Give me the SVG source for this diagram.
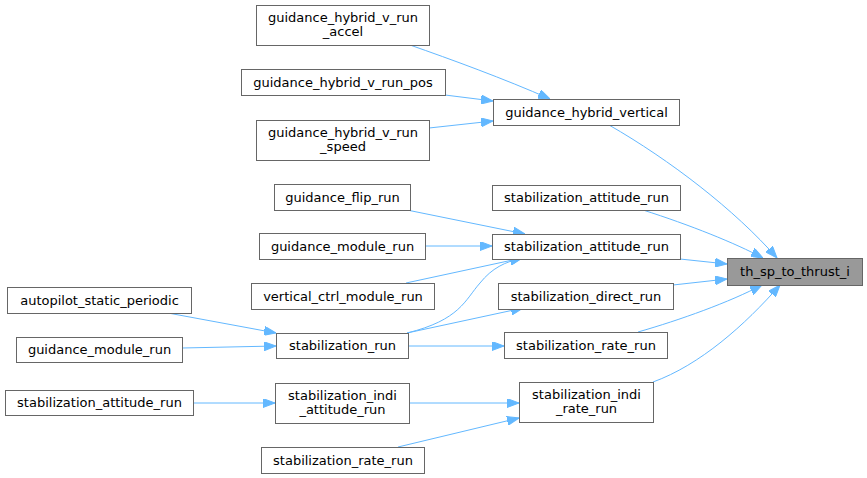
<svg xmlns="http://www.w3.org/2000/svg" width="867" height="478" viewBox="0 0 867 478">
<style>
.n rect{fill:#ffffff;stroke:#666666;stroke-width:1}
.n.hl rect{fill:#999999}
.n text{font-family:"DejaVu Sans",sans-serif;font-size:13px;fill:#000000;text-anchor:middle}
#edges path{fill:none;stroke:#63b8ff;stroke-width:1;marker-end:url(#ah)}
</style>
<defs>
<marker id="ah" markerUnits="userSpaceOnUse" markerWidth="12" markerHeight="9" refX="12" refY="4.5" orient="auto">
<path d="M0,0 L12,4.5 L0,9 z" fill="#63b8ff" stroke="#63b8ff" stroke-width="1"/>
</marker>
</defs>
<rect width="867" height="478" fill="#ffffff"/>
<g id="edges">
<path d="M410,45 C450,59 505,79 550,99"/>
<path d="M445,95 L493,101"/>
<path d="M429,128 L493,121"/>
<path d="M609,125 C670,160 735,210 777,258"/>
<path d="M643,210 C690,225 735,243 763,258"/>
<path d="M680,259 L727,264"/>
<path d="M673,285 L727,279"/>
<path d="M638,332 C680,320 730,302 762,285"/>
<path d="M653,382 C700,365 745,325 780,285"/>
<path d="M407,210 L525,234"/>
<path d="M425,246 L492,246"/>
<path d="M406,283 L522,258"/>
<path d="M407,333 C460,320 465,300 480,283 C492,268 505,262 522,258"/>
<path d="M407,333 L523,308"/>
<path d="M408,346 L504,346"/>
<path d="M168,313 L276,333"/>
<path d="M182,348 L276,346"/>
<path d="M193,403 L275,403"/>
<path d="M409,403 L519,403"/>
<path d="M398,447 L519,418"/>
</g>
<g id="n_accel" class="n"><rect x="256.5" y="5.5" width="173" height="40"/><text x="343" y="22">guidance_hybrid_v_run</text><text x="343" y="36">_accel</text></g>
<g id="n_pos" class="n"><rect x="241.5" y="69.5" width="204" height="26"/><text x="343" y="86.5">guidance_hybrid_v_run_pos</text></g>
<g id="n_speed" class="n"><rect x="256.5" y="120.5" width="173" height="40"/><text x="343" y="137">guidance_hybrid_v_run</text><text x="343" y="151">_speed</text></g>
<g id="n_flip" class="n"><rect x="274.5" y="184.5" width="136" height="26"/><text x="342.5" y="201.5">guidance_flip_run</text></g>
<g id="n_gmr1" class="n"><rect x="259.5" y="233.5" width="166" height="26"/><text x="342.5" y="250.5">guidance_module_run</text></g>
<g id="n_vctrl" class="n"><rect x="251.5" y="283.5" width="183" height="26"/><text x="343" y="300.5">vertical_ctrl_module_run</text></g>
<g id="n_stabrun" class="n"><rect x="276.5" y="333.5" width="132" height="25"/><text x="342.5" y="350">stabilization_run</text></g>
<g id="n_asp" class="n"><rect x="7.5" y="287.5" width="184" height="26"/><text x="99.5" y="304.5">autopilot_static_periodic</text></g>
<g id="n_gmr2" class="n"><rect x="16.5" y="337.5" width="166" height="25"/><text x="99.5" y="354">guidance_module_run</text></g>
<g id="n_sar3" class="n"><rect x="5.5" y="390.5" width="188" height="25"/><text x="99.5" y="407">stabilization_attitude_run</text></g>
<g id="n_indiatt" class="n"><rect x="275.5" y="383.5" width="134" height="40"/><text x="342.5" y="400">stabilization_indi</text><text x="342.5" y="414">_attitude_run</text></g>
<g id="n_srr2" class="n"><rect x="261.5" y="447.5" width="163" height="26"/><text x="343" y="464.5">stabilization_rate_run</text></g>
<g id="n_ghv" class="n"><rect x="493.5" y="99.5" width="186" height="26"/><text x="586.5" y="116.5">guidance_hybrid_vertical</text></g>
<g id="n_sar1" class="n"><rect x="492.5" y="185.5" width="188" height="25"/><text x="586.5" y="202">stabilization_attitude_run</text></g>
<g id="n_sar2" class="n"><rect x="492.5" y="234.5" width="188" height="25"/><text x="586.5" y="251">stabilization_attitude_run</text></g>
<g id="n_direct" class="n"><rect x="498.5" y="283.5" width="175" height="26"/><text x="586" y="300.5">stabilization_direct_run</text></g>
<g id="n_srr1" class="n"><rect x="504.5" y="332.5" width="163" height="26"/><text x="586" y="349.5">stabilization_rate_run</text></g>
<g id="n_indirate" class="n"><rect x="519.5" y="382.5" width="134" height="40"/><text x="586.5" y="399">stabilization_indi</text><text x="586.5" y="413">_rate_run</text></g>
<g id="n_th" class="n hl"><rect x="727.5" y="258.5" width="135" height="27"/><text x="795" y="276">th_sp_to_thrust_i</text></g>
</svg>
